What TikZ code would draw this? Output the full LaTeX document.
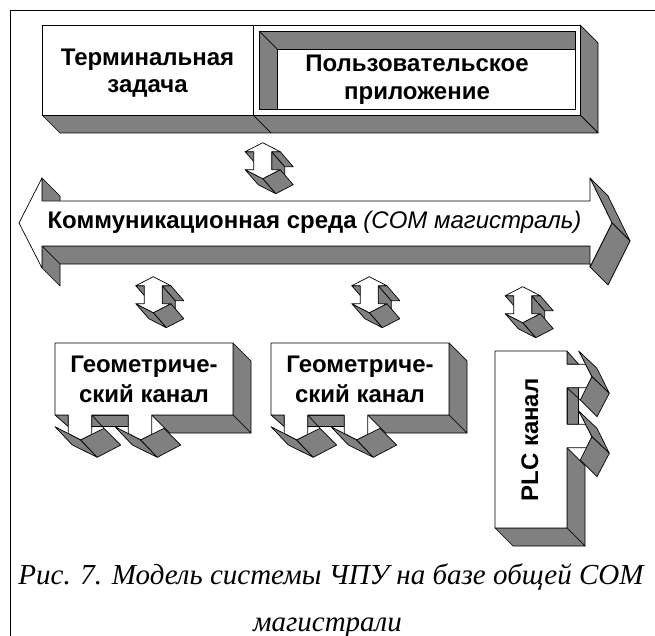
\documentclass[tikz,border=0pt]{standalone}
\usepackage{fontspec}
\setmainfont{Liberation Serif}
\newfontfamily\arialf{Liberation Sans}
\definecolor{shade}{HTML}{808080}
\tikzset{
  face/.style={fill=shade, draw=black, line width=0.7pt, line join=round},
  front/.style={fill=white, draw=black, line width=0.7pt, line join=round},
  edgeline/.style={draw=black, line width=0.7pt},
  lbl/.style={font=\arialf\bfseries\fontsize{24}{28}\selectfont, inner sep=0pt, anchor=base},
  captext/.style={font=\itshape\fontsize{29}{34}\selectfont, inner sep=0pt, anchor=base},
}
% small 3D up-down arrow, tip at (#1,#2)
\newcommand\myudarrow[2]{%
\begin{scope}[shift={(#1,#2)}]
  \draw[face] (9,9) -- (22,24) -- (22,42) -- (9,27) -- cycle;
  \draw[face] (9,9) -- (17.5,9) -- (30.5,24) -- (22,24) -- cycle;
  \draw[face] (0,36) -- (17.5,27) -- (30.5,42) -- (13,51) -- cycle;
  \draw[face] (-17.5,27) -- (0,36) -- (13,51) -- (-4.5,42) -- cycle;
  \draw[face] (-17.5,9) -- (-9,9) -- (4,24) -- (-4.5,24) -- cycle;
  \draw[front] (0,0) -- (17.5,9) -- (9,9) -- (9,27) -- (17.5,27) -- (0,36)
     -- (-17.5,27) -- (-9,27) -- (-9,9) -- (-17.5,9) -- cycle;
\end{scope}}
% geometric channel box with two outlet arrows, left edge at #1
\newcommand\mygeobox[2]{%
\begin{scope}[shift={(#1,0)}]
  \draw[face] (178,343) -- (196,361) -- (196,433) -- (178,415) -- cycle;
  \draw[face] (96.7,415) -- (178,415) -- (196,433) -- (114.7,433) -- cycle;
  \draw[face] (0,415) -- (13.3,415) -- (13.3,426.7) -- cycle;
  \draw[face] (36.7,415) rectangle (73.3,426.7);
  \draw[edgeline] (36.7,415) -- (49,428.3);
  \draw[front] (0,343) -- (178,343) -- (178,415) -- (96.7,415) -- (96.7,434.5)
     -- (85.7,440) -- (73.3,433.6) -- (73.3,415) -- (36.7,415) -- (36.7,434.5)
     -- (25.7,440) -- (13.3,433.6) -- (13.3,415) -- (0,415) -- cycle;
  \foreach \a in {0,60} {
    \draw[face] (\a,426.7) -- (\a+25.7,440) -- (\a+42.3,457.3) -- (\a+17.3,445) -- cycle;
    \draw[face] (\a+25.7,440) -- (\a+49,428.3) -- (\a+65.7,445) -- (\a+42.3,457.3) -- cycle;
  }
  \node[lbl] (#2a) at (89,372) {Геометриче-};
  \node[lbl] (#2b) at (89,402) {ский канал};
\end{scope}}

\begin{document}
\begin{tikzpicture}[x=1pt,y=-1pt]
\useasboundingbox (0,0) rectangle (655,636);
% frame
\draw[line width=1pt] (10,700) -- (10,10.5) -- (660,10.5);

% top box
\draw[face] (580,25) -- (598,43) -- (598,133) -- (580,115) -- cycle;
\draw[face] (42,115) -- (580,115) -- (598,133) -- (60,133) -- cycle;
\draw[edgeline] (253,115) -- (271,133);
\draw[front] (42,25) rectangle (253,115);
\draw[front] (253,25) rectangle (580,115);
\draw[face] (259,31) rectangle (575,109);
\draw[front] (277,49) rectangle (575,109);
\draw[edgeline] (259,31) -- (277,49);
\node[lbl] (term1) at (147.5,65.5) {Терминальная};
\node[lbl] (term2) at (147.5,92.5) {задача};
\node[lbl] (user1) at (417,72) {Пользовательское};
\node[lbl] (user2) at (417,100) {приложение};

% bus
\draw[face] (42,246) -- (590,246) -- (608,264) -- (60,264) -- cycle;
\draw[face] (42,246) -- (42,268) -- (60,286) -- (60,264) -- cycle;
\draw[face] (42,178) -- (60,196) -- (60,219) -- (42,201) -- cycle;
\draw[face] (590,178) -- (612,223) -- (630,241) -- (608,196) -- cycle;
\draw[face] (612,223) -- (590,267) -- (608,285) -- (630,241) -- cycle;
\draw[front] (19,223) -- (42,178) -- (42,201) -- (590,201) -- (590,178) -- (612,223)
   -- (590,267) -- (590,246) -- (42,246) -- (42,268) -- cycle;
\node[lbl] (bus) at (314.5,228.5) {Коммуникационная среда {\mdseries\itshape (COM магистраль)}};

% small arrows
\myudarrow{262.7}{142.7}
\myudarrow{153.3}{276.7}
\myudarrow{369.3}{276.7}
\myudarrow{522.7}{286.7}

% geometric channels
\mygeobox{55}{geoA}
\mygeobox{271}{geoB}

% PLC channel
\draw[face] (567,447.7) -- (585,465.7) -- (585,546) -- (567,528) -- cycle;
\draw[face] (495,528) -- (567,528) -- (585,546) -- (513,546) -- cycle;
\draw[face] (567,351) -- (567,364.3) -- (578.7,364.3) -- cycle;
\draw[face] (567,387.7) rectangle (578.7,424.3);
\draw[edgeline] (567,387.7) -- (580.3,400);
\draw[front] (495,351) -- (567,351) -- (567,364.3) -- (585.6,364.3) -- (592,376.7)
   -- (586.5,387.7) -- (567,387.7) -- (567,424.3) -- (585.6,424.3) -- (592,436.7)
   -- (586.5,447.7) -- (567,447.7) -- (567,528) -- (495,528) -- cycle;
\foreach \a in {351,411} {
  \draw[face] (578.7,\a) -- (592,\a+25.7) -- (609.3,\a+42.3) -- (597,\a+17.3) -- cycle;
  \draw[face] (592,\a+25.7) -- (580.3,\a+49) -- (597,\a+65.7) -- (609.3,\a+42.3) -- cycle;
}
\node[lbl, rotate=90] (plc) at (538,440) {PLC канал};

% caption
\node[captext] (cap1) at (331,584) {Рис. 7. Модель системы ЧПУ на базе общей COM};
\node[captext] (cap2) at (327.5,631) {магистрали};
\end{tikzpicture}
\end{document}
